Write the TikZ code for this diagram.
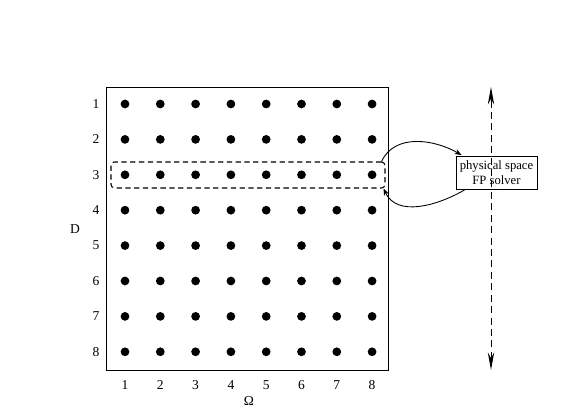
\documentclass[tikz,border=0pt]{standalone}
\usepackage{fontspec}
\setmainfont{Liberation Serif}
\usetikzlibrary{arrows, arrows.meta}
\usetikzlibrary{calc}

\begin{document}
\begin{tikzpicture}[line width=0.5pt, font=\fontsize{7.7}{9}\selectfont]
      \useasboundingbox (0,0) rectangle (11.74,8.32);

      % grid of points
      \node[draw, rectangle, inner sep=0pt, minimum width=5.64cm, minimum height=5.66cm] (frame) at (4.94,3.75) {};
      \foreach \i in {1,...,8} {
        \foreach \j in {1,...,8} {
          \node[circle, fill, inner sep=0pt, minimum size=1.75mm] (p\i\j) at ({2.5+(\i-1)*0.706}, {6.24-(\j-1)*0.708}) {};
        }
        \node (c\i) at ({2.5+(\i-1)*0.706}, 0.62) {\i};
        \node (r\i) at (1.92, {6.24-(\i-1)*0.708}) {\i};
      }
      \node (D) at (1.5, 3.74) {D};
      \node (Omega) at (4.98, 0.3) {Ω};

      % selected row and solver
      \node[draw, dashed, line width=0.6pt, dash pattern=on 3pt off 2pt, rounded corners=2pt, inner sep=0pt, minimum width=5.48cm, minimum height=0.52cm] (row3) at (4.96,4.82) {};
      \node[draw, rectangle, inner sep=1pt, minimum width=1.62cm, minimum height=0.66cm, align=center, font=\fontsize{7.2}{8.4}\selectfont] (solver) at (9.93,4.86) {physical space\\FP solver};

      \draw[-{Stealth[length=4pt, width=3pt]}] ([xshift=-0.08cm]row3.north east) to[out=65, in=150] ([xshift=0.12cm, yshift=0.02cm]solver.north west);
      \draw[-{Stealth[length=4pt, width=3pt]}] ([xshift=0.18cm]solver.south west) to[out=-150, in=-65] ([xshift=-0.04cm]row3.south east);

      % vertical axis
      \coordinate (top) at (9.82,6.58);
      \coordinate (bottom) at (9.82,0.92);
      \draw[dashed, dash pattern=on 4pt off 2.5pt, {Stealth[length=10pt, width=3.6pt]}-{Stealth[length=10pt, width=3.6pt]}] (bottom) -- (top);
    \end{tikzpicture}
\end{document}
